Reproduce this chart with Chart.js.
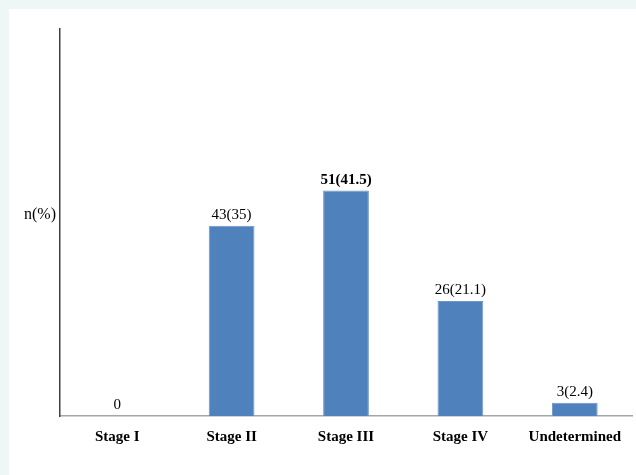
<!DOCTYPE html>
<html>
<head>
<meta charset="utf-8">
<script src="https://cdn.jsdelivr.net/npm/chart.js@4"></script>
<style>
  html, body { margin: 0; padding: 0; background: #eef7f6; }
  #wrap { position: absolute; left: 9px; top: 9px; width: 627px; height: 466px; background: #ffffff; }
</style>
</head>
<body>
<div id="wrap"><canvas id="myChart" width="627" height="466"></canvas></div>
<script>
// chart data
var stages = ['Stage I', 'Stage II', 'Stage III', 'Stage IV', 'Undetermined'];
var counts = [0, 43, 51, 26, 3];
var percents = ['', '35', '41.5', '21.1', '2.4'];
var boldLabel = [false, false, true, false, false];

// labels on top of the bars, n(%)
var barLabels = {
    id: 'barLabels',
    afterDatasetsDraw: function(chart) {
        var ctx = chart.ctx;
        var meta = chart.getDatasetMeta(0);
        ctx.save();
        ctx.fillStyle = '#000000';
        ctx.textAlign = 'center';
        ctx.textBaseline = 'bottom';
        meta.data.forEach(function(bar, i) {
            ctx.font = (boldLabel[i] ? 'bold ' : '') + '15px "Liberation Serif"';
            var txt = percents[i] === '' ? String(counts[i]) : counts[i] + '(' + percents[i] + ')';
            ctx.fillText(txt, bar.x, bar.y - 3);
        });
        // y title, written horizontally
        ctx.font = '16px "Liberation Serif"';
        ctx.textAlign = 'right';
        ctx.textBaseline = 'middle';
        ctx.fillText('n(%)', 47, 206);
        ctx.restore();
    }
};

var ctx1 = document.getElementById('myChart').getContext('2d');
var stageChart = new Chart(ctx1, {
    type: 'bar',
    data: {
        labels: stages,
        datasets: [{
            data: counts,
            backgroundColor: '#4f81bd',
            borderColor: '#6d96c8',
            borderWidth: 1,
            categoryPercentage: 1.0,
            barPercentage: 0.4
        }]
    },
    options: {
        responsive: false,
        animation: false,
        layout: {
            padding: { left: 51, right: 4, top: 20, bottom: 17 }
        },
        plugins: {
            legend: { display: false },
            tooltip: { enabled: false }
        },
        scales: {
            x: {
                grid: { display: false, drawTicks: false },
                border: { display: true, color: '#a6a6a6', width: 1.5 },
                ticks: {
                    padding: 12,
                    color: '#000000',
                    font: { family: 'Liberation Serif', size: 15, weight: 'bold' }
                }
            },
            y: {
                min: 0,
                max: 87.5,
                grid: { display: false, drawTicks: false },
                border: { display: true, color: '#3f3f3f', width: 1.5 },
                ticks: { display: false }
            }
        }
    },
    plugins: [barLabels]
});
</script>
</body>
</html>
